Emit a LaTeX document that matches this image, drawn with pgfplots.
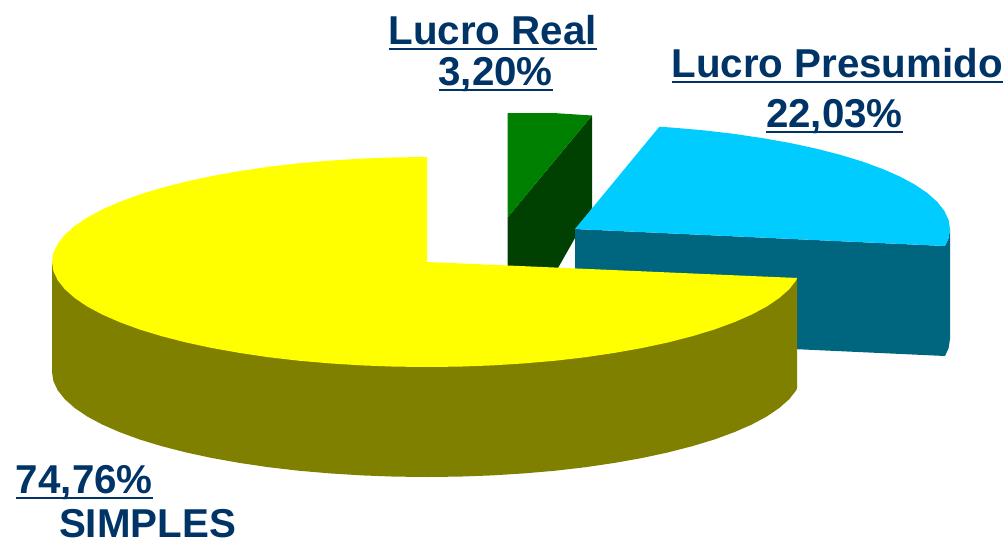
\documentclass[border=0pt]{standalone}
\usepackage{fontspec}
\setmainfont{Liberation Sans}
\usepackage{pgfplots}
\pgfplotsset{compat=1.18}
\definecolor{txt}{HTML}{003366}
\definecolor{ye}{HTML}{FFFF00}
\definecolor{yd}{HTML}{808000}
\definecolor{bl}{HTML}{00CCFF}
\definecolor{bd}{HTML}{006680}
\definecolor{gr}{HTML}{008000}
\definecolor{gd}{HTML}{004000}
\newcommand{\ul}[1]{\setbox0\hbox{#1}\rlap{\vrule width\wd0 height -3.6pt depth 6pt}\box0}
\begin{document}
\begin{tikzpicture}
\begin{axis}[
  name=pie,
  width=1007pt, height=547pt, scale only axis,
  xmin=0, xmax=1007, ymin=0, ymax=547, y dir=reverse,
  hide axis, clip=false,
  every axis plot/.append style={no marks, draw=none, line width=0pt},
  nodes={font=\fontsize{40.3}{48}\selectfont\bfseries, text=txt, inner sep=0pt, outer sep=0pt, anchor=base west},
]
% Lucro Real: side, top
\addplot[fill=gd, forget plot] coordinates {(592,115.5) (507.7,217.3) (507.7,268) (558,268) (592,208)};
\addplot[fill=gr, forget plot] coordinates {(507.7,113) (553,113) (592,115.5) (507.7,217.3)};
% Lucro Presumido: side, top
\addplot[fill=bd, forget plot] coordinates {(575,229) (945,246) (948.6,238.2) (950,229) (950,339) (948.6,348.2) (945,356) (575,339)};
\addplot[fill=bl, forget plot] coordinates {(575,229) (659.4,126.7) (672.1,127.6) (703.3,130.3) (733.5,133.8) (762.5,138.1) (790.1,143) (816.1,148.6) (840.2,154.8) (862.3,161.5) (882.2,168.8) (899.8,176.5) (914.9,184.6) (927.4,193.1) (937.2,201.8) (944.3,210.8) (948.6,219.8) (950,229) (948.6,238.2) (945,246)};
% SIMPLES: side, top
\addplot[fill=yd, forget plot] coordinates {(52,262) (52,372) (53.4,381.2) (57.7,390.2) (64.8,399.2) (74.6,407.9) (87.1,416.4) (102.2,424.5) (119.8,432.2) (139.7,439.5) (161.8,446.2) (185.9,452.4) (211.9,458) (239.5,462.9) (268.5,467.2) (298.7,470.7) (329.9,473.4) (361.9,475.4) (394.3,476.6) (427,477) (459.7,476.6) (492.1,475.4) (524.1,473.4) (555.3,470.7) (585.5,467.2) (614.5,462.9) (642.1,458) (668.1,452.4) (692.2,446.2) (714.3,439.5) (734.2,432.2) (751.8,424.5) (766.9,416.4) (779.4,407.9) (789.2,399.2) (796.3,390.2) (797,388) (797,278)};
\addplot[fill=ye, forget plot] coordinates {(427,262) (427,157) (394.3,157.4) (361.9,158.6) (329.9,160.6) (298.7,163.3) (268.5,166.8) (239.5,171.1) (211.9,176) (185.9,181.6) (161.8,187.8) (139.7,194.5) (119.8,201.8) (102.2,209.5) (87.1,217.6) (74.6,226.1) (64.8,234.8) (57.7,243.8) (53.4,252.8) (52,262) (53.4,271.2) (57.7,280.2) (64.8,289.2) (74.6,297.9) (87.1,306.4) (102.2,314.5) (119.8,322.2) (139.7,329.5) (161.8,336.2) (185.9,342.4) (211.9,348) (239.5,352.9) (268.5,357.2) (298.7,360.7) (329.9,363.4) (361.9,365.4) (394.3,366.6) (427,367) (459.7,366.6) (492.1,365.4) (524.1,363.4) (555.3,360.7) (585.5,357.2) (614.5,352.9) (642.1,348) (668.1,342.4) (692.2,336.2) (714.3,329.5) (734.2,322.2) (751.8,314.5) (766.9,306.4) (779.4,297.9) (789.2,289.2) (796.3,280.2) (797,278)};
% Labels
\node at (axis cs:388.5,44) {\ul{Lucro Real}};
\node at (axis cs:438.5,85) {\ul{3,20\%}};
\node at (axis cs:671.5,77) {\ul{Lucro Presumido}};
\node at (axis cs:766,127) {\ul{22,03\%}};
\node at (axis cs:16,493) {\ul{74,76\%}};
\node at (axis cs:59,537) {SIMPLES};
\path (axis cs:0,0) rectangle (axis cs:1007,547);
\end{axis}
\end{tikzpicture}
\end{document}
